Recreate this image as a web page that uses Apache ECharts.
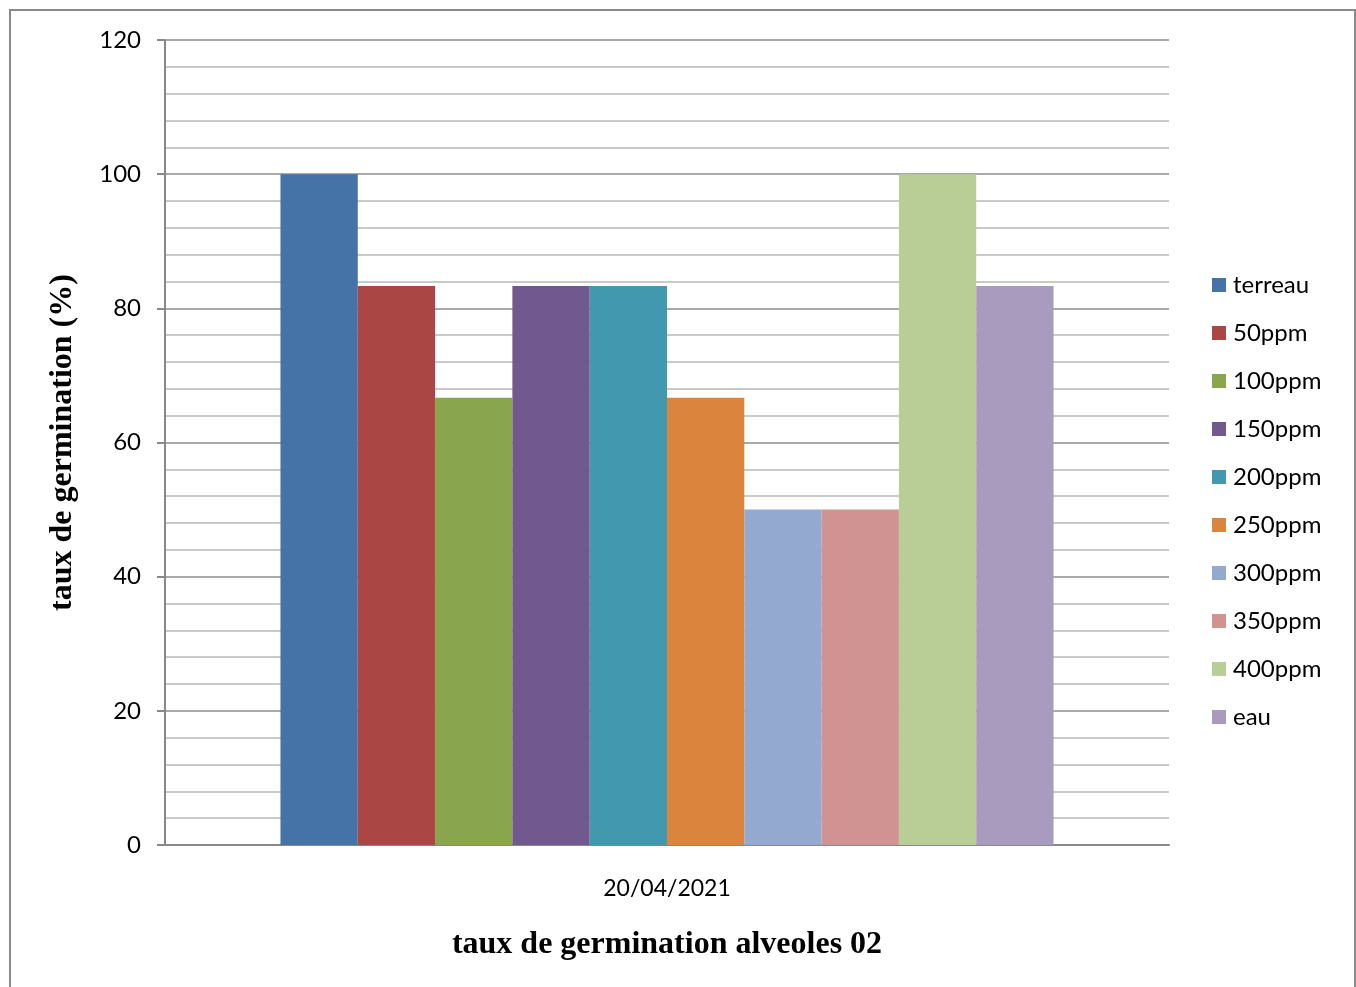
<!DOCTYPE html>
<html>
<head>
<meta charset="utf-8">
<script src="https://cdn.jsdelivr.net/npm/echarts@6/dist/echarts.min.js"></script>
<style>
html,body{margin:0;padding:0;background:#fff;}
#chart{width:1356px;height:987px;}
</style>
</head>
<body>
<div id="chart"></div>
<script>
const categories = ['20/04/2021'];
const seriesNames = ['terreau','50ppm','100ppm','150ppm','200ppm','250ppm','300ppm','350ppm','400ppm','eau'];
const seriesValues = [100, 83.33, 66.67, 83.33, 83.33, 66.67, 50, 50, 100, 83.33];
const seriesColors = ['#4572A7','#AA4643','#89A54E','#71588F','#4198AF','#DB843D','#93A9CF','#D19392','#B9CD96','#A99BBD'];
const yTicks = {min: 0, max: 120, interval: 20};
const yAxisTitle = 'taux de germination (%)';
const chartTitle = 'taux de germination alveoles 02';

const chart = echarts.init(document.getElementById('chart'));
const sansFont = 'Lato';
const serifFont = '"Liberation Serif", "Times New Roman", serif';

const series = seriesNames.map((name, i) => ({
  name: name,
  type: 'bar',
  data: [seriesValues[i]],
  barGap: '0%',
  barCategoryGap: '23%',
  itemStyle: {color: seriesColors[i]},
  emphasis: {disabled: true}
}));

chart.setOption({
  animation: false,
  backgroundColor: '#fff',
  graphic: [{
    type: 'rect',
    shape: {x: 10, y: 10, width: 1345, height: 990},
    style: {fill: 'none', stroke: '#8a8a8a', lineWidth: 2},
    silent: true
  }],
  title: {
    text: chartTitle,
    left: 662,
    top: 924,
    textAlign: 'center',
    textStyle: {fontFamily: serifFont, fontWeight: 'bold', fontSize: 32, color: '#000'}
  },
  legend: {
    orient: 'vertical',
    left: 1207,
    top: 268,
    itemWidth: 14,
    itemHeight: 14,
    itemGap: 24,
    icon: 'rect',
    selectedMode: false,
    data: seriesNames,
    textStyle: {fontFamily: sansFont, fontSize: 24, color: '#000', padding: [0,0,0,2]}
  },
  grid: {left: 165, right: 187, top: 40, bottom: 142, containLabel: false},
  xAxis: {
    type: 'category',
    data: categories,
    axisLine: {show: true, lineStyle: {color: '#888', width: 2}},
    axisTick: {show: false},
    axisLabel: {fontFamily: sansFont, fontSize: 23, color: '#000', margin: 32},
    splitLine: {show: false}
  },
  yAxis: {
    type: 'value',
    min: yTicks.min,
    max: yTicks.max,
    interval: yTicks.interval,
    name: yAxisTitle,
    nameLocation: 'middle',
    nameGap: 86,
    nameRotate: 90,
    nameTextStyle: {fontFamily: serifFont, fontWeight: 'bold', fontSize: 32, color: '#000'},
    axisLine: {show: true, lineStyle: {color: '#888', width: 2}},
    axisTick: {show: true, length: 8, lineStyle: {color: '#888', width: 2}},
    axisLabel: {fontFamily: sansFont, fontSize: 24, color: '#000', margin: 24},
    splitLine: {show: true, lineStyle: {color: '#8c8c8c', width: 1.5}},
    minorTick: {show: false, splitNumber: 5},
    minorSplitLine: {show: true, lineStyle: {color: '#b8b8b8', width: 1.5}}
  },
  series: series
});
</script>
</body>
</html>
